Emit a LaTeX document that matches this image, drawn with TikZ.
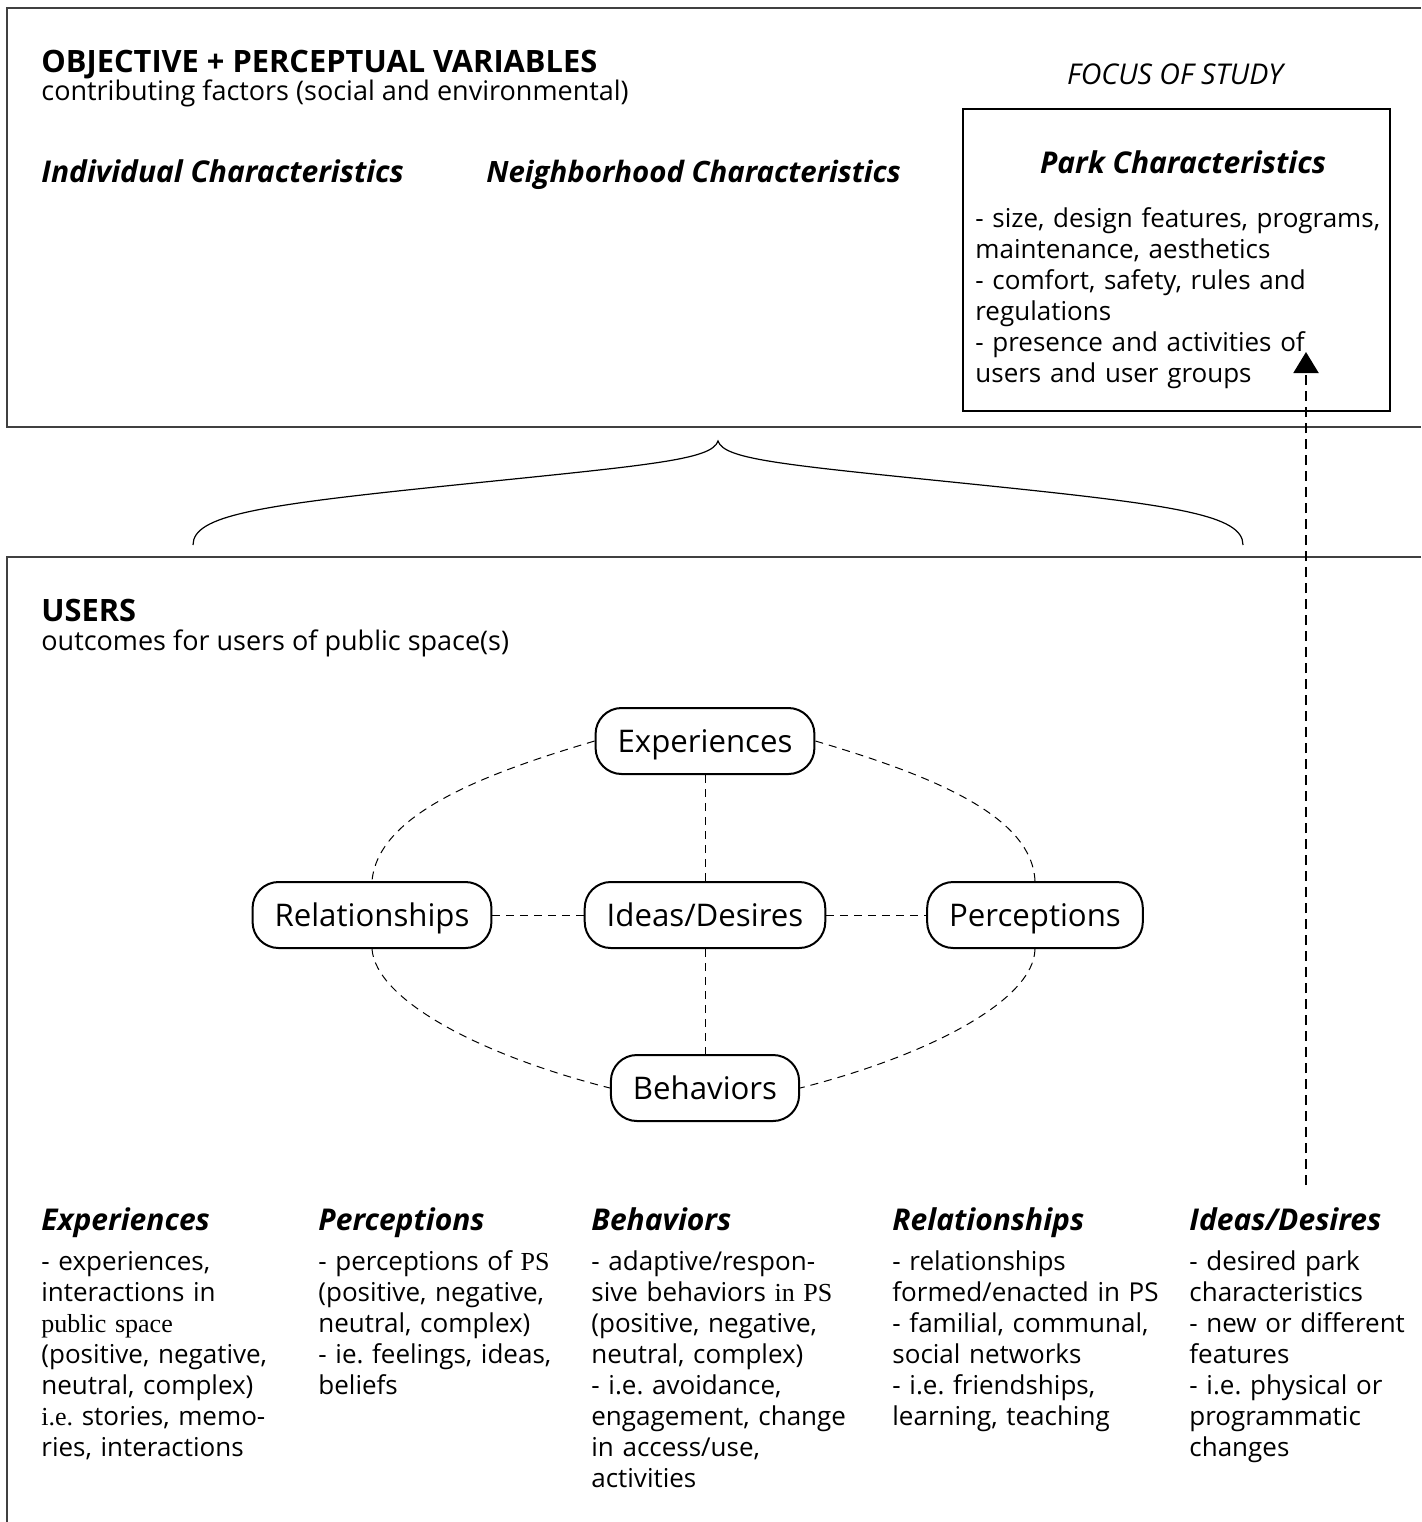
\documentclass[tikz,border=0pt]{standalone}
\usepackage{fontspec}
\setmainfont{Open Sans}
\newfontfamily\psserif{Liberation Serif}
\usetikzlibrary{positioning,arrows.meta}
\frenchspacing

\tikzset{
  frame/.style={draw=black!75, line width=0.6pt},
  parkbox/.style={draw, line width=1.1pt},
  heading/.style={anchor=base west, inner sep=0pt, font=\fontsize{15.4}{18}\selectfont\bfseries},
  subhead/.style={anchor=base west, inner sep=0pt, font=\fontsize{13.5}{15.5}\selectfont},
  charhead/.style={anchor=base west, inner sep=0pt, font=\fontsize{15}{18}\selectfont\bfseries\itshape},
  focus/.style={anchor=base, inner sep=0pt, font=\fontsize{14.3}{16}\selectfont\itshape},
  column/.style={anchor=base west, inner sep=0pt, text width=180pt, align=left, font=\fontsize{13}{15.5}\selectfont},
  outcome/.style={draw, line width=1pt, rounded corners=13pt, minimum height=33pt, inner xsep=11pt,
    text height=12.5pt, text depth=1.5pt, font=\fontsize{15.6}{18}\selectfont},
  link/.style={line width=0.5pt, dash pattern=on 4pt off 3pt},
  feedback/.style={line width=1pt, dash pattern=on 5pt off 3pt, -{Triangle[width=12.5pt,length=10.5pt]}},
}

\begin{document}
\begin{tikzpicture}[x=0.5pt,y=-0.5pt]
    \useasboundingbox (0,0) rectangle (1421,1522);

    % frames
    \draw[frame] (1421,8) -| (7,427) -- (1421,427);
    \draw[frame] (1421,557) -| (7,1522);

    % top panel
    \node[heading] (objhead) at (41,72) {OBJECTIVE + PERCEPTUAL VARIABLES};
    \node[subhead] (objsub) at (41,100) {contributing factors (social and environmental)};
    \node[charhead] (indiv) at (41,182) {Individual Characteristics};
    \node[charhead, font=\fontsize{14.7}{18}\selectfont\bfseries\itshape] (neigh) at (486,182) {Neighborhood Characteristics};

    \node[focus] (focus) at (1175,84) {FOCUS OF STUDY};
    \draw[parkbox] (963,109) rectangle (1390,411);
    \node[charhead, anchor=base] (parkhead) at (1183,173) {Park Characteristics};
    \node[column, text width=230pt] (parktext) at (975,227) {- size, design features, programs,\\ maintenance, aesthetics\\ - comfort, safety, rules and\\ regulations\\ - presence and activities of\\ users and user groups};

    % brace
    \draw[line width=0.6pt] (193,545) .. controls (193,515) and (260,505) .. (455,485)
        .. controls (650,465) and (712,460) .. (718,441)
        .. controls (724,460) and (786,465) .. (981,485)
        .. controls (1176,505) and (1243,515) .. (1243,545);

    % users panel
    \node[heading] (usershead) at (41,621) {USERS};
    \node[subhead] (userssub) at (41,650) {outcomes for users of public space(s)};

    \node[outcome] (ex) at (705,741) {Experiences};
    \node[outcome] (re) at (372,915) {Relationships};
    \node[outcome] (id) at (705,915) {Ideas/Desires};
    \node[outcome] (pe) at (1035,915) {Perceptions};
    \node[outcome] (be) at (705,1088) {Behaviors};

    \path[link] (ex) edge (id)
                (id) edge (be)
                (re) edge (id)
                (id) edge (pe);
    \draw[link] (ex.west) .. controls (480,775) and (378,815) .. (re.north);
    \draw[link] (ex.east) .. controls (930,775) and (1032,815) .. (pe.north);
    \draw[link] (re.south) .. controls (376,1000) and (480,1055) .. (be.west);
    \draw[link] (pe.south) .. controls (1034,1000) and (930,1055) .. (be.east);

    % outcome columns
    \node[charhead] (exhead) at (41,1230) {Experiences};
    \node[charhead] (pehead) at (318,1230) {Perceptions};
    \node[charhead] (behead) at (591,1230) {Behaviors};
    \node[charhead] (rehead) at (892,1230) {Relationships};
    \node[charhead] (idhead) at (1189,1230) {Ideas/Desires};

    \node[column] (extext) at (41,1270) {- experiences,\\ interactions in\\ {\psserif public space}\\ (positive, negative,\\ neutral, complex)\\ {\psserif i.e.} stories, memo-\\ ries, interactions};
    \node[column] (petext) at (318,1270) {- perceptions of {\psserif PS}\\ (positive, negative,\\ neutral, complex)\\ - ie. feelings, ideas,\\ beliefs};
    \node[column] (betext) at (591,1270) {- adaptive/respon-\\ sive behaviors {\psserif in PS}\\ (positive, negative,\\ neutral, complex)\\ - i.e. avoidance,\\ engagement, change\\ in access/use,\\ activities};
    \node[column] (retext) at (892,1270) {- relationships\\ formed/enacted in PS\\ - familial, communal,\\ social networks\\ - i.e. friendships,\\ learning, teaching};
    \node[column] (idtext) at (1189,1270) {- desired park\\ characteristics\\ - new or different\\ features\\ - i.e. physical or\\ programmatic\\ changes};

    % feedback to park characteristics
    \coordinate (fbstart) at (1306,1185);
    \coordinate (fbend) at (1306,352);
    \draw[feedback] (fbstart) -- (fbend);
\end{tikzpicture}
\end{document}
